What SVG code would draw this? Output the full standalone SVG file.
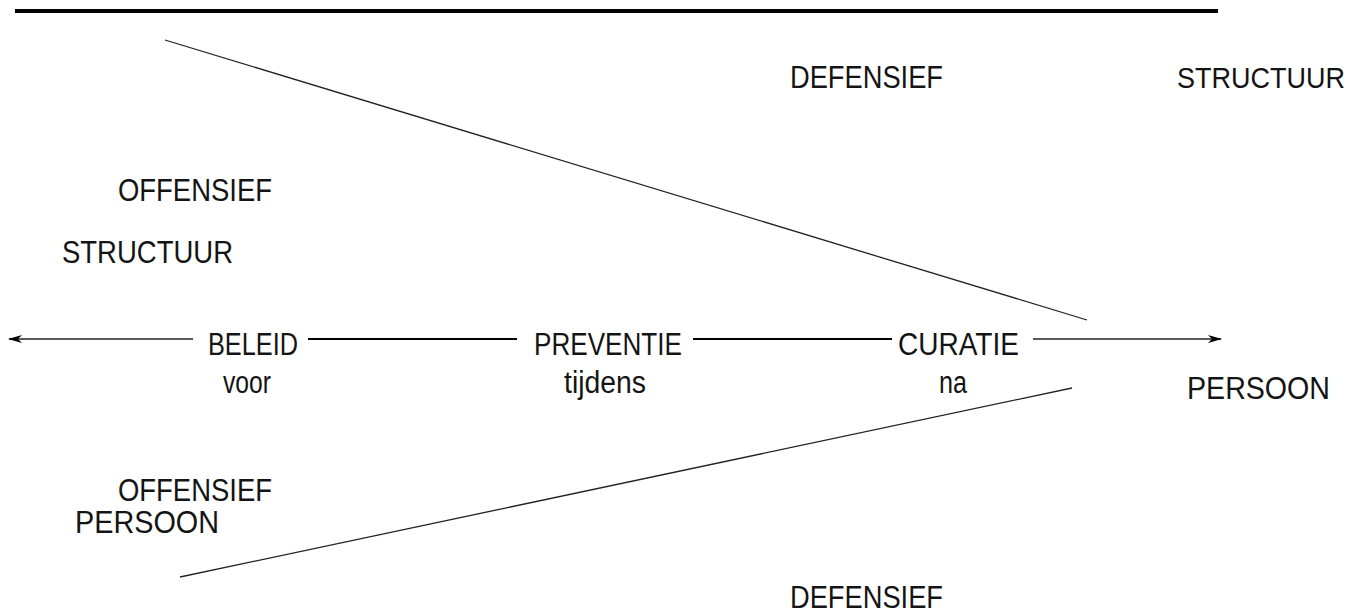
<svg xmlns="http://www.w3.org/2000/svg" width="1365" height="613" viewBox="0 0 1365 613">
<style>
text{font-family:"Liberation Sans",Arial,sans-serif;font-size:31px;fill:#141414}
.thin{stroke:#222;stroke-width:1.3;fill:none}
.mid{stroke:#000;stroke-width:2;fill:none}
</style>
<defs>
<marker id="ah" viewBox="0 0 14 8" refX="13" refY="4" markerWidth="14" markerHeight="8" markerUnits="userSpaceOnUse" orient="auto">
<path d="M0,0 L14,4 L0,8 L4,4 Z" fill="#000"/>
</marker>
</defs>
<rect width="1365" height="613" fill="#fff"/>
<g id="connectors">
<line x1="15" y1="11" x2="1218" y2="11" stroke="#000" stroke-width="4"/>
<line class="thin" x1="165" y1="40" x2="1087" y2="320"/>
<line class="thin" x1="180" y1="577" x2="1072" y2="388"/>
<line class="thin" x1="193" y1="339" x2="9" y2="339" marker-end="url(#ah)"/>
<line class="mid" x1="308" y1="339" x2="517" y2="339"/>
<line class="mid" x1="693" y1="339" x2="892" y2="339"/>
<line class="thin" x1="1033" y1="339" x2="1221" y2="339" marker-end="url(#ah)"/>
</g>
<g id="n-defensief-top"><text x="790" y="88" textLength="153" lengthAdjust="spacingAndGlyphs">DEFENSIEF</text></g>
<g id="n-structuur-top"><text x="1177" y="88" style="font-size:29px" textLength="168" lengthAdjust="spacingAndGlyphs">STRUCTUUR</text></g>
<g id="n-offensief-top"><text x="118" y="201" textLength="154" lengthAdjust="spacingAndGlyphs">OFFENSIEF</text></g>
<g id="n-structuur-left"><text x="62" y="263" textLength="171" lengthAdjust="spacingAndGlyphs">STRUCTUUR</text></g>
<g id="n-beleid"><text x="208" y="355" textLength="90" lengthAdjust="spacingAndGlyphs">BELEID</text><text x="223" y="393" textLength="48" lengthAdjust="spacingAndGlyphs">voor</text></g>
<g id="n-preventie"><text x="534" y="355" textLength="148" lengthAdjust="spacingAndGlyphs">PREVENTIE</text><text x="564" y="393" textLength="82" lengthAdjust="spacingAndGlyphs">tijdens</text></g>
<g id="n-curatie"><text x="898" y="355" textLength="121" lengthAdjust="spacingAndGlyphs">CURATIE</text><text x="939" y="393" textLength="28" lengthAdjust="spacingAndGlyphs">na</text></g>
<g id="n-persoon-right"><text x="1187" y="399" textLength="143" lengthAdjust="spacingAndGlyphs">PERSOON</text></g>
<g id="n-offensief-bottom"><text x="118" y="501" textLength="154" lengthAdjust="spacingAndGlyphs">OFFENSIEF</text></g>
<g id="n-persoon-left"><text x="75" y="533" textLength="144" lengthAdjust="spacingAndGlyphs">PERSOON</text></g>
<g id="n-defensief-bottom"><text x="790" y="608" textLength="153" lengthAdjust="spacingAndGlyphs">DEFENSIEF</text></g>
</svg>
